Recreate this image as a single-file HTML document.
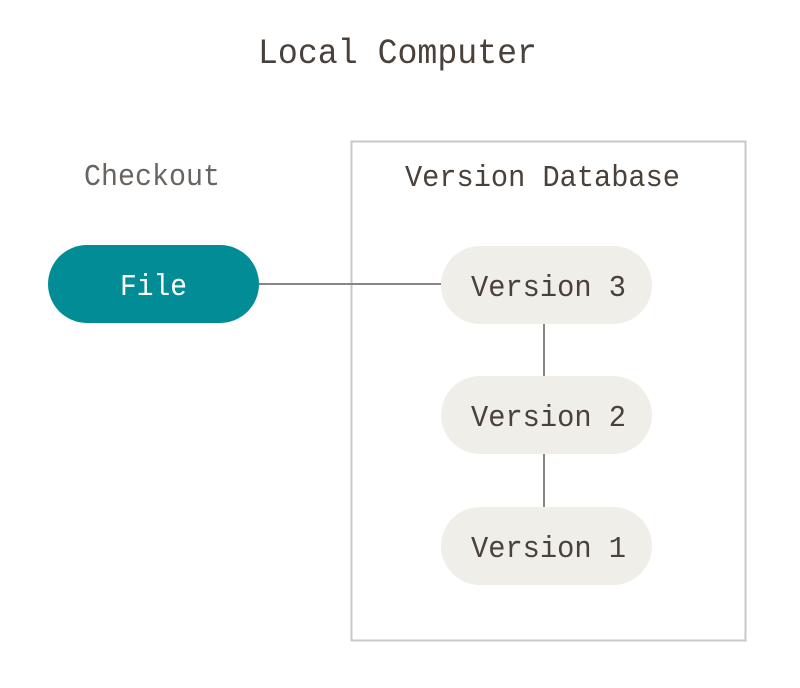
<!DOCTYPE html>
<html><head><style>
body{margin:0;width:800px;height:683px;background:#fff;overflow:hidden}
</style></head><body>
<svg width="800" height="683" xmlns="http://www.w3.org/2000/svg" style="font-family:'Liberation Mono',monospace">
<rect x="351.5" y="141.5" width="394" height="499" fill="#fff" stroke="#c8c8c8" stroke-width="2"/>
<line x1="259" y1="284" x2="441" y2="284" stroke="#8a8580" stroke-width="2"/>
<line x1="544" y1="324" x2="544" y2="376" stroke="#8a8580" stroke-width="2"/>
<line x1="544" y1="454" x2="544" y2="507" stroke="#8a8580" stroke-width="2"/>
<rect x="48" y="245" width="211" height="78" rx="39" fill="#028d96"/>
<rect x="441" y="246" width="211" height="78" rx="39" fill="#efeee8"/>
<rect x="441" y="376" width="211" height="78" rx="39" fill="#efeee8"/>
<rect x="441" y="507" width="211" height="78" rx="39" fill="#efeee8"/>
<g fill="#4a413a">
<text x="258" y="63" font-size="35" textLength="279" lengthAdjust="spacingAndGlyphs">Local Computer</text>
<text x="84" y="185" fill="#6a6460" font-size="31" textLength="136" lengthAdjust="spacingAndGlyphs">Checkout</text>
<text x="405" y="186" font-size="31" textLength="275" lengthAdjust="spacingAndGlyphs">Version Database</text>
<text x="120" y="295" fill="#fff" font-size="31" textLength="67" lengthAdjust="spacingAndGlyphs">File</text>
<text x="471" y="296" font-size="31" textLength="155" lengthAdjust="spacingAndGlyphs">Version 3</text>
<text x="471" y="426" font-size="31" textLength="155" lengthAdjust="spacingAndGlyphs">Version 2</text>
<text x="471" y="557" font-size="31" textLength="155" lengthAdjust="spacingAndGlyphs">Version 1</text>
</g>
</svg>
</body></html>
